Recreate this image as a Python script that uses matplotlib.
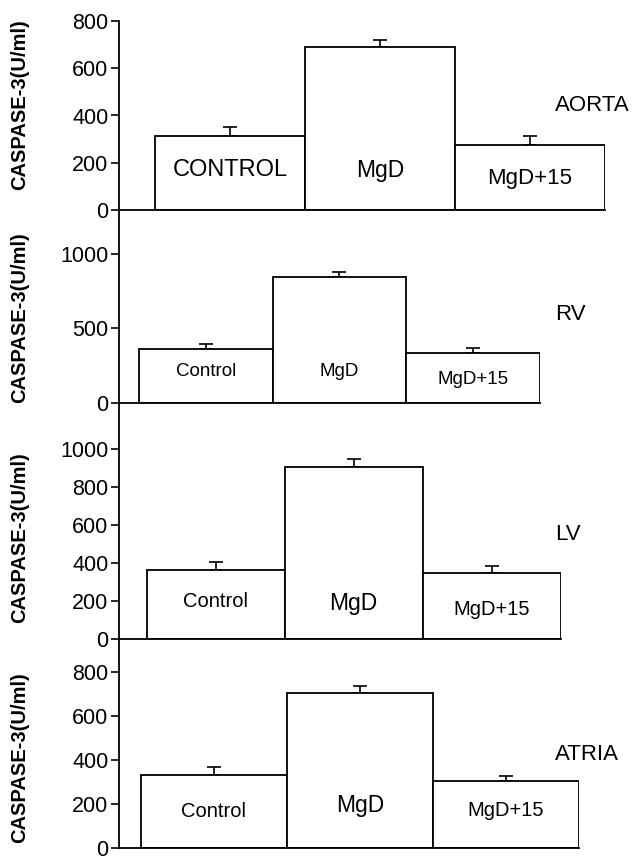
import matplotlib
matplotlib.use("Agg")
import matplotlib.pyplot as plt

plt.rcParams['font.family'] = ['Liberation Sans', 'DejaVu Sans']

groups = ['Control', 'MgD', 'MgD+15']

# values (mean, upper SE)
aorta_mean = [313, 690, 275]
aorta_err = [38, 30, 38]
rv_mean = [364, 843, 333]
rv_err = [31, 33, 36]
lv_mean = [365, 903, 347]
lv_err = [38, 44, 35]
atria_mean = [330, 704, 304]
atria_err = [40, 32, 25]

W, H = 634, 863
fig = plt.figure(figsize=(W / 100, H / 100), dpi=100)
fig.patch.set_facecolor('white')

# panel layout in pixels: bar left edge, bar width, axes top, zero line, ylim top
panels = [
    dict(mean=aorta_mean, err=aorta_err, names=['CONTROL', 'MgD', 'MgD+15'], name='AORTA',
         left=155, bw=150, top=21, zero=210, ymax=800, ticks=[0, 200, 400, 600, 800],
         lab_y=[169, 169, 135], lab_fs=[17, 16.5, 16], name_y=105, ylab_y=105),
    dict(mean=rv_mean, err=rv_err, names=groups, name='RV',
         left=139, bw=133.5, top=210, zero=402.7, ymax=1295, ticks=[0, 500, 1000],
         lab_y=[208, 208, 157], lab_fs=[13.5, 13.5, 13.5], name_y=315, ylab_y=318),
    dict(mean=lv_mean, err=lv_err, names=groups, name='LV',
         left=146.5, bw=138, top=402.7, zero=639, ymax=1244, ticks=[0, 200, 400, 600, 800, 1000],
         lab_y=[196, 188, 153], lab_fs=[14.5, 16.5, 14.5], name_y=535, ylab_y=538),
    dict(mean=atria_mean, err=atria_err, names=groups, name='ATRIA',
         left=141, bw=146, top=639, zero=848, ymax=950, ticks=[0, 200, 400, 600, 800],
         lab_y=[164, 192, 170], lab_fs=[14.5, 16.5, 14.5], name_y=754, ylab_y=758),
]

axis_x = 119
x = [0, 1, 2]

for p in panels:
    right = p['left'] + 3 * p['bw']
    ax = fig.add_axes([axis_x / W, 1 - p['zero'] / H, (right - axis_x) / W,
                       (p['zero'] - p['top']) / H])
    ax.bar(x, p['mean'], width=1.0, color='white', edgecolor='black', linewidth=1.3, zorder=2)
    ax.errorbar(x, p['mean'], yerr=[[0, 0, 0], p['err']], fmt='none', ecolor='black',
                elinewidth=1.2, capsize=5, capthick=1.2, zorder=1)
    ax.set_xlim(-0.5 - (p['left'] - axis_x) / p['bw'], 2.5)
    ax.set_ylim(0, p['ymax'])
    ax.set_yticks(p['ticks'])
    ax.tick_params(axis='y', labelsize=15.5, length=6, width=1.2, direction='out', pad=1.5)
    ax.set_xticks([])
    for s in ['top', 'right']:
        ax.spines[s].set_visible(False)
    for s in ['left', 'bottom']:
        ax.spines[s].set_linewidth(1.3)
    ax.patch.set_alpha(0)
    for xi, nm, ly, fs in zip(x, p['names'], p['lab_y'], p['lab_fs']):
        ax.text(xi, ly, nm, ha='center', va='center', fontsize=fs)
    fig.text(555 / W, 1 - p['name_y'] / H, p['name'], ha='left', va='center', fontsize=16)
    fig.text(20 / W, 1 - p['ylab_y'] / H, 'CASPASE-3(U/ml)', rotation=90, ha='center',
             va='center', fontsize=14.5, fontweight='bold')

fig.savefig('out.png', dpi=100, facecolor='white')
